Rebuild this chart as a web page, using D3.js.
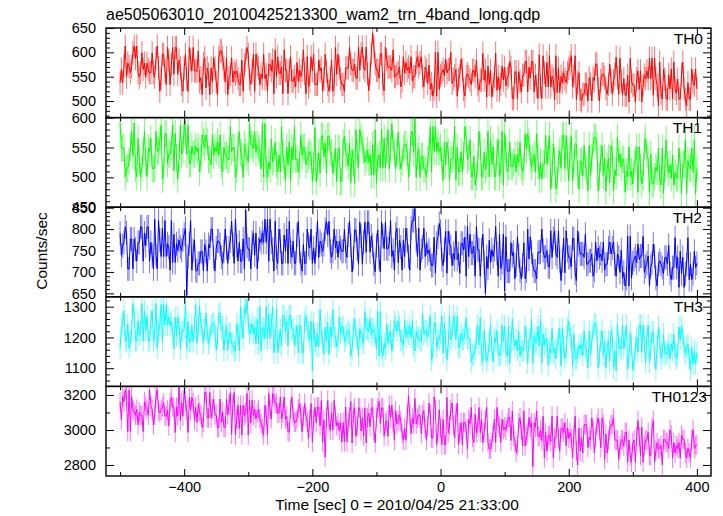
<!DOCTYPE html>
<html><head><meta charset="utf-8">
<script src="https://cdn.jsdelivr.net/npm/d3@7"></script>
<style>body{margin:0;background:#fff}svg{display:block}</style>
</head><body>
<svg id="c" width="723" height="516"></svg>
<script>
// ---- data (counts/sec, 2-s samples from -500 s to 400 s, estimated from the plot) ----
const TH0 = [
537,565,537,571,613,549,578,571,558,571,599,613,587,613,558,549,558,599,565,578,549,578,565,558,558,599,558,549,587,613,
568,520,546,596,596,562,534,610,584,534,575,610,555,610,610,555,584,568,534,520,568,596,546,520,610,584,562,610,562,562,
561,603,539,548,513,577,589,527,568,555,513,568,539,589,568,539,513,589,603,603,589,568,539,589,513,548,555,589,539,561,
555,562,546,534,534,584,520,575,584,610,596,546,534,562,596,520,596,575,568,534,555,546,596,546,555,520,575,575,562,584,
515,605,550,591,557,557,570,515,605,563,563,515,563,591,541,541,550,529,579,541,563,550,563,605,557,515,591,529,541,591,
562,596,534,534,534,584,562,568,520,546,596,562,534,520,546,584,520,534,610,555,596,568,546,534,534,520,568,568,568,610,
576,563,563,576,547,547,611,563,597,611,569,563,611,556,521,556,597,640,611,576,563,563,547,597,597,535,521,611,585,569,
570,570,563,605,550,550,557,557,570,529,541,591,557,579,563,570,557,591,541,550,550,579,591,570,579,591,550,529,570,563,
536,574,524,536,510,524,600,510,600,524,552,558,565,552,586,558,565,565,600,536,545,552,565,510,545,552,586,565,524,510,
550,556,550,543,534,563,563,550,584,534,522,543,543,598,543,563,508,572,534,563,508,534,550,598,522,550,522,534,572,543,
569,531,547,553,581,569,505,505,560,560,505,560,540,519,553,553,581,581,519,569,547,581,581,519,553,531,505,595,531,505,
593,558,529,579,529,593,529,551,545,503,593,517,567,517,551,538,558,545,538,558,567,579,593,529,551,593,503,538,558,503,
500,514,514,535,535,500,548,535,500,548,542,576,576,526,500,542,555,555,548,526,514,535,576,542,514,542,555,590,548,514,
588,540,512,546,512,512,553,498,588,540,533,533,498,546,562,524,562,498,533,553,546,562,546,588,546,588,512,588,546,533,
490,580,516,504,566,545,504,504,554,525,566,504,580,525,516,545,504,504,554,580,525,504,490,538,504,504,566,538,532,566,525];
const TH1 = [
591,549,549,549,501,515,515,527,549,577,536,591,515,501,565,527,501,515,543,577,527,501,549,543,565,515,515,515,577,543,
545,561,587,497,511,573,573,523,539,539,552,587,511,573,532,497,532,587,539,545,587,573,539,587,523,523,552,539,539,552,
543,550,509,530,571,559,550,571,559,530,530,521,571,537,550,543,559,537,571,521,509,550,537,537,530,530,585,543,550,550,
500,514,555,576,542,535,500,555,542,535,526,590,555,555,548,576,542,555,548,542,514,590,500,590,514,500,526,514,564,526,
530,559,521,509,537,509,585,537,521,495,550,521,559,495,550,530,585,530,530,509,521,571,537,550,550,521,530,537,543,537,
493,519,583,493,519,541,507,569,569,535,557,507,569,569,541,541,507,528,548,493,548,548,493,493,557,569,541,535,519,557,
490,545,525,490,580,538,516,580,566,554,545,525,532,545,525,538,504,554,504,580,490,532,538,516,580,516,566,516,545,580,
514,548,590,555,542,514,542,576,535,514,526,548,555,555,542,500,526,576,576,542,603,500,535,548,500,535,535,514,514,500,
530,543,585,509,585,543,585,543,559,543,550,530,495,559,521,559,543,495,530,530,537,585,495,550,509,509,543,509,537,585,
563,529,535,563,501,501,535,487,501,522,577,551,501,501,542,513,522,577,501,563,522,551,501,501,542,563,501,513,577,487,
573,547,509,518,559,518,518,525,538,509,538,525,559,518,509,518,573,547,573,559,531,518,531,538,509,573,531,497,525,497,
522,522,570,522,544,570,480,506,556,528,480,494,528,544,515,570,570,515,570,535,494,544,570,494,522,556,556,506,480,528,
525,503,553,519,512,477,553,503,532,553,567,567,553,477,503,532,553,503,532,477,519,532,491,553,541,477,512,503,567,525,
539,517,530,530,475,510,501,551,501,510,489,523,530,551,475,551,517,489,501,551,565,539,530,475,539,489,489,501,517,510,
549,499,487,549,473,515,563,521,508,521,499,537,487,508,499,499,549,521,473,521,521,563,473,528,515,515,549,508,563,473,515];
const TH2 = [
791,739,761,769,805,791,707,707,777,777,707,777,753,725,769,769,805,805,725,791,761,805,805,725,769,739,707,823,739,707,
820,774,736,802,736,820,736,766,758,704,820,722,788,722,766,750,774,758,750,774,788,802,645,736,766,820,704,750,774,704,
702,720,720,748,748,702,764,748,702,764,756,800,800,734,702,756,772,772,764,734,720,748,800,756,720,756,772,818,764,720,
823,761,725,769,725,725,777,707,845,761,753,753,707,769,791,739,791,707,753,777,769,791,769,823,769,823,725,823,769,753,
702,818,734,720,800,772,720,720,786,748,800,720,818,748,734,772,720,720,786,818,748,720,702,764,720,720,800,764,756,800,
720,756,720,764,818,734,772,764,748,764,800,818,786,818,748,734,748,800,756,772,734,772,756,748,748,800,748,734,786,818,
762,700,732,798,798,754,718,816,784,718,770,816,746,816,816,746,784,762,718,700,762,798,732,700,816,784,754,816,754,754,
766,820,736,750,704,788,802,722,774,758,704,774,736,802,774,736,704,802,820,820,848,774,736,802,704,750,758,802,736,766,
743,751,729,715,715,781,697,767,781,813,795,729,715,751,795,697,795,767,759,715,743,729,795,729,743,697,767,767,751,781,
690,806,736,788,744,744,760,690,806,752,752,690,752,788,722,650,736,708,774,722,752,736,752,806,744,690,788,708,722,788,
655,782,702,702,702,768,738,746,684,716,782,738,702,684,716,768,684,702,800,730,782,746,716,702,702,684,746,746,746,800,
750,734,734,750,712,712,796,734,778,796,742,734,796,726,680,726,778,698,796,750,734,734,712,778,778,698,680,796,764,742,
742,742,734,788,718,718,726,726,742,690,704,770,726,756,734,742,726,770,704,718,718,756,770,742,756,770,718,690,742,734,
699,751,685,699,667,685,783,667,783,685,721,729,737,721,765,729,737,737,783,699,713,721,737,667,713,721,765,737,685,667,
718,726,718,710,696,734,734,718,762,696,682,710,710,780,710,734,664,748,696,734,664,696,718,780,682,718,682,696,748,710,720];
const TH3 = [
1165,1233,1243,1287,1189,1189,1243,1166,1189,1222,1310,1269,1189,1189,1254,1207,1222,1310,1189,1287,1222,1269,1189,1189,1254,1287,1189,1207,1310,1166,
1219,1240,1307,1186,1307,1240,1307,1240,1266,1240,1251,1219,1163,1266,1204,1266,1240,1163,1219,1219,1230,1307,1163,1251,1186,1186,1240,1186,1230,1307,
1181,1235,1302,1246,1225,1181,1225,1279,1214,1181,1199,1235,1246,1246,1225,1158,1199,1279,1279,1225,1235,1158,1214,1235,1158,1214,1214,1181,1181,1158,
1156,1244,1212,1156,1300,1233,1197,1300,1277,1325,1244,1212,1223,1244,1212,1233,1179,1259,1179,1300,1156,1223,1233,1197,1300,1197,1277,1197,1244,1300,
1150,1191,1294,1150,1191,1227,1173,1271,1271,1217,1253,1173,1271,1271,1227,1227,1173,1206,1238,1150,1238,1238,1150,1150,1253,1271,1227,1217,1191,1253,
1092,1249,1187,1169,1213,1169,1290,1213,1187,1146,1234,1187,1249,1146,1234,1202,1290,1202,1202,1169,1187,1267,1213,1234,1234,1187,1202,1213,1223,1213,
1140,1163,1228,1261,1207,1196,1140,1228,1207,1196,1181,1284,1228,1228,1217,1261,1207,1228,1217,1207,1163,1284,1140,1284,1163,1140,1181,1163,1243,1181,
1210,1221,1156,1189,1254,1236,1221,1254,1236,1189,1189,1174,1254,1200,1221,1210,1236,1200,1254,1174,1156,1221,1200,1200,1189,1189,1277,1210,1221,1221,
1203,1229,1270,1126,1149,1247,1247,1167,1193,1193,1214,1270,1149,1247,1182,1126,1182,1270,1193,1203,1270,1247,1193,1270,1167,1167,1214,1193,1193,1214,
1264,1197,1197,1197,1120,1143,1143,1161,1197,1241,1176,1264,1143,1120,1223,1161,1120,1143,1187,1241,1161,1120,1197,1187,1223,1143,1143,1143,1241,1187,
1237,1157,1139,1237,1116,1183,1260,1193,1172,1193,1157,1219,1139,1172,1157,1157,1237,1193,1116,1193,1193,1260,1116,1204,1183,1183,1237,1172,1260,1116,
1211,1175,1196,1196,1108,1164,1149,1229,1149,1164,1131,1185,1196,1229,1108,1229,1175,1131,1149,1229,1252,1211,1196,1108,1211,1131,1131,1149,1175,1164,
1177,1141,1221,1167,1156,1100,1221,1141,1188,1221,1244,1244,1221,1100,1141,1188,1221,1141,1188,1100,1167,1188,1123,1221,1203,1100,1156,1092,1244,1177,
1163,1163,1240,1163,1199,1240,1096,1137,1217,1173,1096,1119,1173,1199,1152,1240,1240,1152,1240,1184,1119,1199,1240,1119,1163,1217,1217,1137,1096,1173,
1234,1193,1131,1146,1211,1146,1146,1157,1178,1131,1178,1157,1211,1146,1131,1146,1234,1193,1234,1211,1167,1146,1167,1178,1131,1093,1167,1113,1157,1113,1150];
const TH0123 = [
3161,3059,3191,3161,3229,3191,2991,3229,2991,3191,3118,3102,3084,3118,3029,3102,3084,3084,2991,3161,3136,3118,3084,3229,3136,3118,3029,3084,3191,3229,
3113,3097,3113,3131,3156,3079,3079,3113,3024,3156,3186,3131,3131,2986,3131,3079,3245,3054,3156,3079,3224,3156,3113,2986,3186,3113,3186,3156,3054,3131,
3044,3146,3103,3087,3014,3044,3214,3214,3069,3069,3214,3069,3121,3176,3087,3087,3014,3014,3176,3044,3103,3014,3014,3176,3087,3146,3214,2976,3146,3214,
2971,3064,3141,3009,3141,2971,3141,3082,3098,3209,2971,3171,3039,3171,3082,3116,3064,3098,3116,3064,3039,3009,2971,3141,3082,2971,3209,3116,3064,3209,
3189,3151,3151,3096,3096,3189,3062,3096,3189,3062,3078,2989,2989,3121,3189,3078,3044,3044,3062,3121,3151,3096,2989,3078,3151,3078,3044,2951,3062,3151,
2931,3058,3131,3042,3131,3131,3024,3169,2931,3058,2845,3076,3169,3042,2999,3101,2999,3169,3076,3024,3042,2999,3042,2931,3042,2931,3131,2931,3042,3076,
3164,2926,3096,3126,2964,3019,3126,3126,2994,3071,2964,3126,2926,3071,3096,3019,3126,3126,2994,2926,3071,3126,3164,3037,3126,3126,2964,3037,3053,2964,
3141,3068,3141,3052,2941,3111,3034,3052,3086,3052,2979,2941,3009,2941,3086,3195,3086,2979,3068,3034,3180,3034,3068,3086,3086,2979,3086,3111,3009,2941,
3027,3154,3086,2954,2954,3190,3116,2916,2984,3116,3009,2916,3061,2916,2916,3185,2984,3027,3116,3154,3027,2954,3086,3154,2916,2984,3043,2916,3043,3043,
3002,2891,3061,3036,3129,2959,2929,3091,2984,3018,3129,2984,3061,2929,2984,3061,3129,2929,2891,2891,2929,2984,3061,2929,3129,3036,3018,2929,3061,3002,
3016,2998,3041,3071,3071,2939,3109,2964,2939,2871,2909,3041,3071,2998,2909,3109,2909,2964,2982,3071,3016,3041,2790,3041,3016,3109,2964,2964,2998,2939,
3079,2841,2986,2879,2968,2968,2934,3079,2841,2952,2952,3079,2952,2879,3011,3011,2986,3041,2909,3011,2952,2986,2952,2841,2968,3079,2879,2800,3011,2879,
2958,2869,3031,3031,3031,2899,2958,2942,3069,3001,2869,2958,3031,3069,3001,2899,3069,3031,2831,2976,2869,2942,3001,3031,3031,3069,2942,2942,2942,2831,
2909,2943,2943,2909,2986,2986,2816,2943,2854,2816,2927,2943,2816,2961,3054,2961,2854,3016,2816,2909,2943,2943,2986,2854,2854,3016,3054,2816,2884,2927,
2894,2894,2912,2801,2946,2946,2928,2928,2894,3001,2971,2839,2928,2869,2912,2894,2928,2839,2971,2946,2946,2869,2839,2894,2869,2839,2946,3001,2894,2912,2915];

const bandNames = ["TH0","TH1","TH2","TH3","TH0123"];
const bandErrors = [24, 23, 28, 35, 56];          // typical 1-sigma half-width of error bars
const timeRange = [-500, 400];
const yDomains = [[466,650],[450,600],[642,851],[1041,1332],[2737,3249]];
const yMajorTicks = [[500,550,600,650],[450,500,550,600],[650,700,750,800,850],[1100,1200,1300],[2800,3000,3200]];
const yMinorStep = [10,10,10,20,100];
const xMajorTicks = [-400,-200,0,200,400];
const xMinorTicks = [-500,-300,-100,100,300];
const xDomain = [-522, 422];
const titleText = "ae505063010_20100425213300_wam2_trn_4band_long.qdp";
const xLabelText = "Time [sec] 0 = 2010/04/25 21:33:00";
const yLabelText = "Counts/sec";

// ---- layout / style ----
const colors = ["#ff0000","#00ff00","#0000ff","#00ffff","#ff00ff"];
const L = 106, R = 711, T = 28, B = 476;
const FONT = "'Liberation Sans', Arial, Helvetica, sans-serif";
const series = [TH0, TH1, TH2, TH3, TH0123];
const nP = series.length;
const pH = (B - T) / nP;
const labelX = [703, 702, 702, 703, 707];

const svg = d3.select("#c");
const x = d3.scaleLinear().domain(xDomain).range([L, R]);
const defs = svg.append("defs");

series.forEach((vals, p) => {
  const top = T + p * pH, bot = top + pH;
  const y = d3.scaleLinear().domain(yDomains[p]).range([bot, top]);
  const n = vals.length;
  const dt = (timeRange[1] - timeRange[0]) / (n - 1);
  const pts = vals.map((v, i) => ({t: timeRange[0] + i * dt, v}));
  defs.append("clipPath").attr("id", "clip" + p)
    .append("rect").attr("x", L).attr("y", top).attr("width", R - L).attr("height", pH);
  const g = svg.append("g").attr("clip-path", `url(#clip${p})`);
  const e = bandErrors[p];
  g.append("path")
    .attr("d", pts.map(d => `M${x(d.t)},${y(d.v - e)}V${y(d.v + e)}`).join(""))
    .attr("stroke", colors[p]).attr("stroke-opacity", 0.55).attr("stroke-width", 1).attr("fill", "none");
  g.append("path")
    .attr("d", d3.line().x(d => x(d.t)).y(d => y(d.v))(pts))
    .attr("stroke", colors[p]).attr("stroke-width", 1).attr("fill", "none");

  // y axes
  const d0 = yDomains[p][0], d1 = yDomains[p][1], st = yMinorStep[p];
  const minor = d3.range(Math.ceil(d0 / st) * st, d1 + 1e-9, st).filter(v => !yMajorTicks[p].includes(v));
  const ax = (axis, tx, tv, size, fmt) => {
    const a = svg.append("g").attr("transform", `translate(${tx},0)`)
      .call(axis(y).tickValues(tv).tickSize(size).tickSizeOuter(0).tickPadding(10).tickFormat(fmt));
    a.select(".domain").remove();
    a.selectAll("line").attr("stroke", "#000");
    a.selectAll("text").attr("font-family", FONT).attr("font-size", 14.5).attr("fill", "#000");
    return a;
  };
  ax(d3.axisLeft, L, yMajorTicks[p], -8, d3.format("d"));
  ax(d3.axisLeft, L, minor, -4, () => "");
  ax(d3.axisRight, R, yMajorTicks[p], -8, () => "");
  ax(d3.axisRight, R, minor, -4, () => "");

  // x axes (top and bottom of every panel)
  const xa = (axis, ty, tv, size, fmt) => {
    const a = svg.append("g").attr("transform", `translate(0,${ty})`)
      .call(axis(x).tickValues(tv).tickSize(size).tickSizeOuter(0).tickPadding(6).tickFormat(fmt));
    a.select(".domain").remove();
    a.selectAll("line").attr("stroke", "#000");
    a.selectAll("text").attr("font-family", FONT).attr("font-size", 14.5).attr("fill", "#000");
    return a;
  };
  xa(d3.axisTop, top, xMajorTicks, -7, () => "");
  xa(d3.axisTop, top, xMinorTicks, -4, () => "");
  const isLast = p === nP - 1;
  xa(d3.axisBottom, bot, xMajorTicks, -7, isLast ? (v => (v < 0 ? "\u2212" : "") + Math.abs(v)) : () => "");
  xa(d3.axisBottom, bot, xMinorTicks, -4, () => "");

  // panel label
  svg.append("text").attr("x", labelX[p]).attr("y", top + 15.5)
    .attr("text-anchor", "end").attr("font-family", FONT).attr("font-size", 15.5)
    .text(bandNames[p]);

  // frame
  svg.append("rect").attr("x", L).attr("y", top).attr("width", R - L).attr("height", pH)
    .attr("fill", "none").attr("stroke", "#000").attr("stroke-width", 1.4);
});

svg.append("text").attr("x", L).attr("y", 20).attr("font-family", FONT).attr("font-size", 16)
  .text(titleText);
svg.append("text").attr("x", 397).attr("y", 510).attr("text-anchor", "middle")
  .attr("font-family", FONT).attr("font-size", 15.5).text(xLabelText);
svg.append("text").attr("transform", "translate(47,251) rotate(-90)").attr("text-anchor", "middle")
  .attr("font-family", FONT).attr("font-size", 15.5).text(yLabelText);
</script>
</body></html>
